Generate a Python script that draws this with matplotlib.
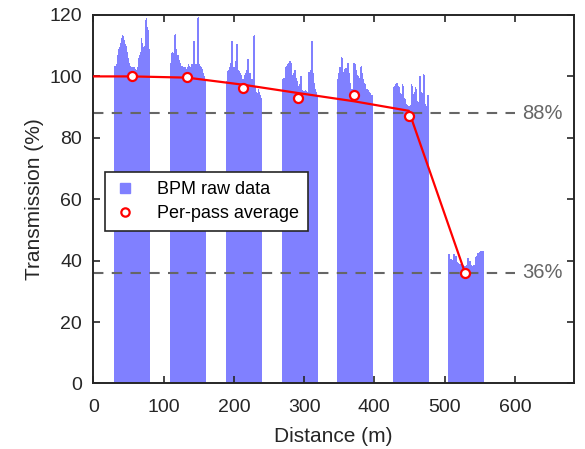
import numpy as np
import matplotlib.pyplot as plt
from matplotlib.lines import Line2D

plt.rcParams['font.family'] = ['Liberation Sans', 'DejaVu Sans']

# BPM readings, one list per pass (1.42 m between monitors)
bpm_spacing = 1.42
pass_starts = [29.5, 109, 189, 268, 347, 426, 505]
pass1 = [103.5, 103.5, 104, 107, 109, 109.5, 111, 112.5, 113.5, 113, 112, 110.5,
         110, 108, 106, 104.5, 103.5, 103, 103, 103, 103, 102.5, 102, 103,
         106, 107, 108, 112.5, 111, 109.5, 110, 118.5, 119, 116, 115, 109]
pass2 = [104.5, 107.5, 108, 107.5, 113.5, 113.8, 109, 107, 107, 105.5, 104.5, 103.5,
         103.5, 103, 103, 103, 102.5, 103, 104, 103.5, 103, 104, 104, 111.5,
         111.5, 104, 104, 119, 119.5, 104, 103.5, 103, 102.5, 101, 100, 99]
pass3 = [98.6, 101.8, 102, 103, 104.5, 111.5, 111.5, 103, 103, 105, 110.5, 110.5,
         102, 101.8, 101, 100.5, 99, 99, 100.5, 101, 102, 105.6, 105.6, 101,
         101, 99, 99, 113.3, 113.5, 97, 95, 94.5, 96, 95, 94, 93]
pass4 = [99, 99.5, 99.5, 103, 103.5, 104, 104.5, 105, 105, 104.5, 100.5, 101,
         102, 102, 99.5, 98.5, 97, 97.5, 100, 100, 95.5, 95.3, 95.2, 95.5,
         95.3, 95, 101.5, 101.5, 102, 111.5, 111.5, 101, 98, 96, 95, 94]
pass5 = [99.3, 101, 103, 103, 106.2, 106, 101.5, 102.5, 102.8, 102.8, 104.5, 104.5,
         101, 98, 96, 96, 104.5, 104.5, 104, 102, 100.5, 100, 99.5, 103,
         103.5, 101, 99, 98, 97.5, 96, 96, 95.5, 95, 94.5, 94, 94]
pass6 = [96.4, 97, 97.5, 98, 98, 97, 96.4, 94.5, 94.2, 97.5, 97, 93,
         92.8, 91, 90.8, 90.5, 90.5, 90.8, 97.5, 97, 94.2, 95, 96.5, 96,
         92, 91.8, 100.2, 100, 95, 94.5, 100.7, 100.5, 91, 90.4, 94, 94]
pass7 = [42, 42, 40.4, 40.4, 40.2, 42, 42, 41.4, 41.4, 39.5, 39.3, 39,
         38.8, 38.8, 38.7, 38.5, 38.4, 38.4, 38.5, 41, 41, 40, 40, 38.5,
         38.4, 38.6, 38.7, 41.2, 41.5, 42.5, 42.6, 42.8, 43, 43, 43, 43]
passes = [pass1, pass2, pass3, pass4, pass5, pass6, pass7]

# per-pass averages
avg_x = [55, 133.5, 213, 291, 371, 450, 529]
avg_y = [100.1, 99.7, 96.1, 92.9, 93.9, 87.0, 36.1]

# transmission trend
trend_x = [0, 55, 133.5, 213, 291, 371, 449, 529]
trend_y = [100, 100, 99.6, 97.3, 94.6, 91.9, 88.8, 36.1]

ref_levels = [88, 36]
ref_labels = ['88%', '36%']

bar_color = '#8080ff'
ink = '#262626'

fig = plt.figure(figsize=(5.85, 4.49), dpi=100)
ax = fig.add_axes([0.1595, 0.146, 0.8215, 0.8206])

for start, vals in zip(pass_starts, passes):
    xs = start + bpm_spacing * np.arange(len(vals))
    ax.bar(xs, vals, width=bpm_spacing * 1.08, align='edge', color=bar_color,
           linewidth=0, zorder=1)

for lev, lab in zip(ref_levels, ref_labels):
    ax.plot([0, 600], [lev, lev], ls=(0, (5, 4)), color='#666666', lw=1.5, zorder=2)
    ax.text(610, lev, lab, color='#666666', fontsize=14.5, va='center', ha='left')

ax.plot(trend_x, trend_y, color='red', lw=1.6, zorder=3)
ax.plot(avg_x, avg_y, 'o', ms=6.5, mfc='white', mec='red', mew=1.6, zorder=4)

ax.set_xlim(0, 684)
ax.set_ylim(0, 120)
ax.set_xticks(range(0, 700, 100))
ax.set_yticks(range(0, 140, 20))
ax.set_xlabel('Distance (m)', fontsize=15, color=ink, labelpad=8)
ax.set_ylabel('Transmission (%)', fontsize=15, color=ink, labelpad=4)
ax.tick_params(direction='in', top=True, right=True, length=5, width=1.2,
               labelsize=14, colors=ink)
ax.tick_params(axis='x', pad=11)
ax.tick_params(axis='y', pad=8)
for sp in ax.spines.values():
    sp.set_linewidth(1.4)
    sp.set_color(ink)

handles = [Line2D([], [], ls='none', marker='s', ms=7, color=bar_color),
           Line2D([], [], ls='none', marker='o', ms=6, mfc='white', mec='red', mew=1.6)]
leg = ax.legend(handles, ['BPM raw data', 'Per-pass average'], loc='upper left',
                bbox_to_anchor=(0.024, 0.574), borderaxespad=0, fontsize=13,
                fancybox=False, framealpha=1, edgecolor=ink, handlelength=1.2,
                handletextpad=1.2, borderpad=0.5, labelspacing=0.4)
leg.get_frame().set_linewidth(1.2)
leg.set_zorder(5)

fig.savefig('out.png', dpi=100)
